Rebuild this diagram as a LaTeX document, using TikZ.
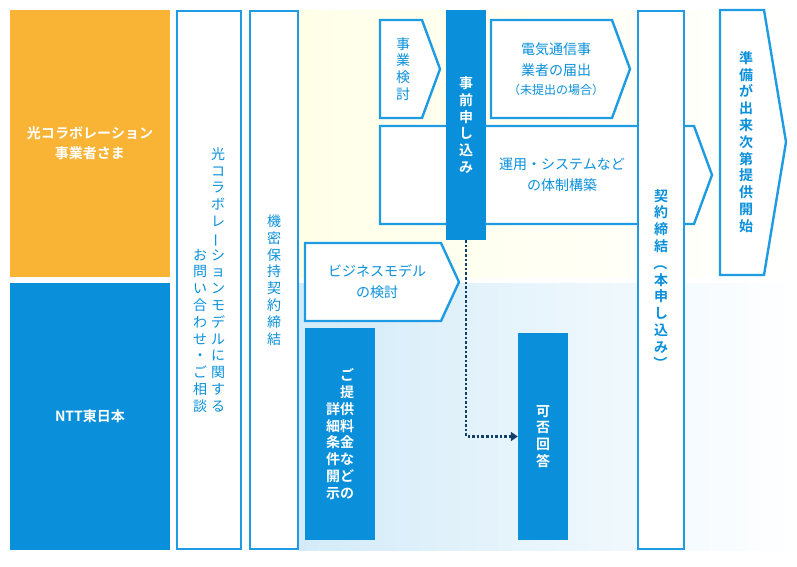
\documentclass[tikz,border=0pt]{standalone}
\usepackage{fontspec}
\usepackage{graphicx}
\setmainfont{Noto Sans CJK JP}[BoldFont={Noto Sans CJK JP Bold}]
\usetikzlibrary{arrows.meta, positioning, calc}

\definecolor{flowblue}{HTML}{0A90DA}
\definecolor{lineblue}{HTML}{1E9BE2}
\definecolor{flowamber}{HTML}{F9B335}
\definecolor{flownavy}{HTML}{12406A}

% vertical (tategaki) text, one character per line
\newcommand\vl{\rotatebox[origin=c]{90}{ー}}
\newcommand\vpo{\rotatebox[origin=c]{-90}{（}}
\newcommand\vpc{\rotatebox[origin=c]{-90}{）}}
\def\vtloop#1{\ifx\relax#1\else\hbox to 1em{\hss#1\hss}\expandafter\vtloop\fi}
\newcommand\vt[1]{\vbox{\baselineskip=1.2em\lineskiplimit=-20pt\vtloop#1\relax}}

\begin{document}
\begin{tikzpicture}[
  x=1pt, y=-1pt,
  bluebox/.style  = {fill=flowblue, text=white, font=\fontsize{14}{17}\selectfont\bfseries, inner sep=0pt},
  linebox/.style  = {draw=lineblue, line width=2.4pt, fill=white, text=flowblue, font=\fontsize{14}{17}\selectfont, inner sep=0pt},
  arrowbox/.style = {draw=lineblue, line width=2.4pt, fill=white, line join=miter},
  label/.style    = {text=flowblue, font=\fontsize{14}{17}\selectfont, align=center, inner sep=0pt},
  dotarrow/.style = {draw=flownavy, line width=2.6pt, dotted, -{Triangle[width=9pt,length=7pt]}}
]
  \useasboundingbox (0,0) rectangle (797,566);

  % backgrounds
  \shade[left color=yellow!9, right color=white] (299,10) rectangle (797,277);
  \shade[left color=flowblue!18, right color=white] (299,283) rectangle (797,550);

  % parties
  \node[fill=flowamber, minimum width=160, minimum height=267, inner sep=0pt, text=white,
        font=\fontsize{14}{20}\selectfont\bfseries, align=center] (partner) at (90,143.5)
        {光コラボレ\makebox[0pt][l]{ー}\hspace{1em}ション\\事業者さま};
  \node[fill=flowblue, minimum width=160, minimum height=267, inner sep=0pt, text=white,
        font=\fontsize{14}{20}\selectfont\bfseries] (ntt) at (90,416.5) {NTT東日本};

  % consultation and NDA
  \node[linebox, minimum width=64, minimum height=538] (consult) at (209,280)
    {\vt{お問い合わせ・ご相談}\hspace{4pt}\vt{光コラボレ\vl ションモデルに関する}};
  \node[linebox, minimum width=48, minimum height=538] (nda) at (274,280) {\vt{機密保持契約締結}};

  % arrow shaped steps
  \draw[arrowbox] (380,20) -- (422,20) -- (440,69) -- (422,118) -- (380,118) -- cycle;
  \node[label] (study) at (403,69) {\vt{事業検討}};

  \draw[arrowbox] (491,20) -- (612,20) -- (630,69) -- (612,118) -- (491,118) -- cycle;
  \node[label, font=\fontsize{14}{21}\selectfont] (notice) at (556,69)
    {電気通信事\\業者の届出\\[-2pt]{\fontsize{12}{14}\selectfont（未提出の場合）}};

  \draw[arrowbox] (380,126) -- (694,126) -- (712,175) -- (694,224) -- (380,224) -- cycle;
  \node[label, font=\fontsize{14}{21}\selectfont] (setup) at (562,175) {運用・システムなど\\の体制構築};

  \draw[arrowbox] (305,243) -- (441,243) -- (459,282) -- (441,321) -- (305,321) -- cycle;
  \node[label, font=\fontsize{14}{21}\selectfont] (model) at (377,282) {ビジネスモデル\\の検討};

  \draw[arrowbox] (720,10) -- (764,10) -- (786,142) -- (764,275) -- (720,275) -- cycle;
  \node[label, font=\fontsize{14}{17}\selectfont\bfseries] (start) at (746,142) {\vt{準備が出来次第提供開始}};

  % blue steps
  \node[bluebox, minimum width=40, minimum height=230] (apply) at (466,125) {\vt{事前申し込み}};
  \node[bluebox, minimum width=70, minimum height=212] (terms) at (340,434)
    {\vt{詳細条件開示}\vbox to 0pt{}\vt{ご提供料金などの}};
  \node[bluebox, minimum width=50, minimum height=207] (answer) at (543,436.5) {\vt{可否回答}};

  % contract
  \node[linebox, minimum width=46, minimum height=538, font=\fontsize{14}{17}\selectfont\bfseries] (contract) at (661,280)
    {\vt{契約締結\vpo 本申し込み\vpc}};

  \draw[dotarrow] (apply.south) |- (answer.west);
\end{tikzpicture}
\end{document}
